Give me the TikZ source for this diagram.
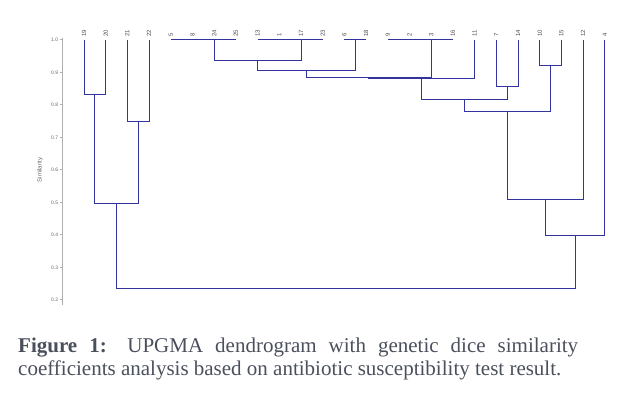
\documentclass[tikz,border=0pt]{standalone}
\usepackage{fontspec}
\setmainfont{Liberation Serif}
\setsansfont{Liberation Sans}
\usetikzlibrary{positioning}
\hyphenpenalty=10000
\tolerance=10000

\definecolor{dendro}{HTML}{3333A0}
\definecolor{axisgray}{HTML}{B0B0B0}
\definecolor{captext}{HTML}{4A4F5C}

\tikzset{
  branch/.style={draw=dendro, line width=1pt},
  axisline/.style={draw=axisgray, line width=1pt},
  leaflbl/.style={font=\sffamily\fontsize{6}{7}\selectfont, text=black!70, rotate=90, anchor=west, inner sep=0pt},
  ticklbl/.style={font=\sffamily\fontsize{5}{6}\selectfont, text=black!60, anchor=east, inner sep=1pt},
  caption/.style={font=\fontsize{21}{22.5}\selectfont, text=captext, text width=560pt, align=justify, inner sep=0pt, anchor=north west},
}

\begin{document}
\begin{tikzpicture}[x=1pt, y=1pt]
  \useasboundingbox (0,0) rectangle (633,395);

  \newcommand\X{21.7pt}
  \newcommand\Y{325pt}
  \newcommand\joinpair[3]{\draw[branch] (#2) -- (#2 |- #1) -- (#3 |- #1) -- (#3);}

  \begin{scope}[shift={(84pt,30pt)}, x=\X, y=\Y]

    %% leaves
    \foreach \lab [count=\i from 0] in {19,20,21,22,5,8,24,25,13,1,17,23,6,18,9,2,3,16,11,7,14,10,15,12,4} {
      \coordinate (l\lab) at (\i,1);
      \node[leaflbl] (t\lab) at ([yshift=3pt]l\lab) {\lab};
    }

    %% axis
    \coordinate (ytop) at (-0.986,1.006);
    \coordinate (ybot) at (-0.986,0.185);
    \draw[axisline] (ytop) -- (ybot);
    \foreach \v [count=\k] in {0.2,0.3,0.4,0.5,0.6,0.7,0.8,0.9,1.0}
      \draw[axisline] (ytop |- 0,\v) -- ++(-3pt,0) node[ticklbl] (tk\k) {\v};
    \node[font=\sffamily\fontsize{6}{7}\selectfont, text=black!60, rotate=90] (ylab) at (-2.03,0.6) {Similarity};

    %% ties at 1.0
    \coordinate (g1) at (6,1);    \draw[branch] (l5) -- (l25);
    \coordinate (g2) at (10,1);   \draw[branch] (l13) -- (l23);
    \coordinate (g3) at (12.5,1); \draw[branch] (l6) -- (l18);
    \coordinate (g4) at (16,1);   \draw[branch] (l9) -- (l16);

    %% merge points
    \coordinate (m1) at (0.5,0.831);
    \coordinate (m2) at (2.5,0.748);
    \coordinate (m3) at (1.5,0.4975);
    \coordinate (m4) at (8,0.938);
    \coordinate (m5) at (10.25,0.906);
    \coordinate (m6) at (13.125,0.884);
    \coordinate (m7) at (15.56,0.880);
    \coordinate (m8) at (19.5,0.857);
    \coordinate (m9) at (17.53,0.818);
    \coordinate (m10) at (21.5,0.923);
    \coordinate (m11) at (19.52,0.779);
    \coordinate (m12) at (21.26,0.508);
    \coordinate (m13) at (22.63,0.397);
    \coordinate (m14) at (12.06,0.234);

    \joinpair{m1}{l19}{l20}
    \joinpair{m2}{l21}{l22}
    \joinpair{m3}{m1}{m2}
    \joinpair{m4}{g1}{g2}
    \joinpair{m5}{m4}{g3}
    \joinpair{m6}{m5}{g4}
    \joinpair{m7}{m6}{l11}
    \joinpair{m8}{l7}{l14}
    \joinpair{m9}{m7}{m8}
    \joinpair{m10}{l10}{l15}
    \joinpair{m11}{m9}{m10}
    \joinpair{m12}{m11}{l12}
    \joinpair{m13}{m12}{l4}
    \joinpair{m14}{m3}{m13}
  \end{scope}

  \node[caption] (cap) at (18,57) {\textbf{Figure 1:} UPGMA dendrogram with genetic dice similarity\linebreak coefficients analysis based on antibiotic susceptibility test result.};
\end{tikzpicture}
\end{document}
